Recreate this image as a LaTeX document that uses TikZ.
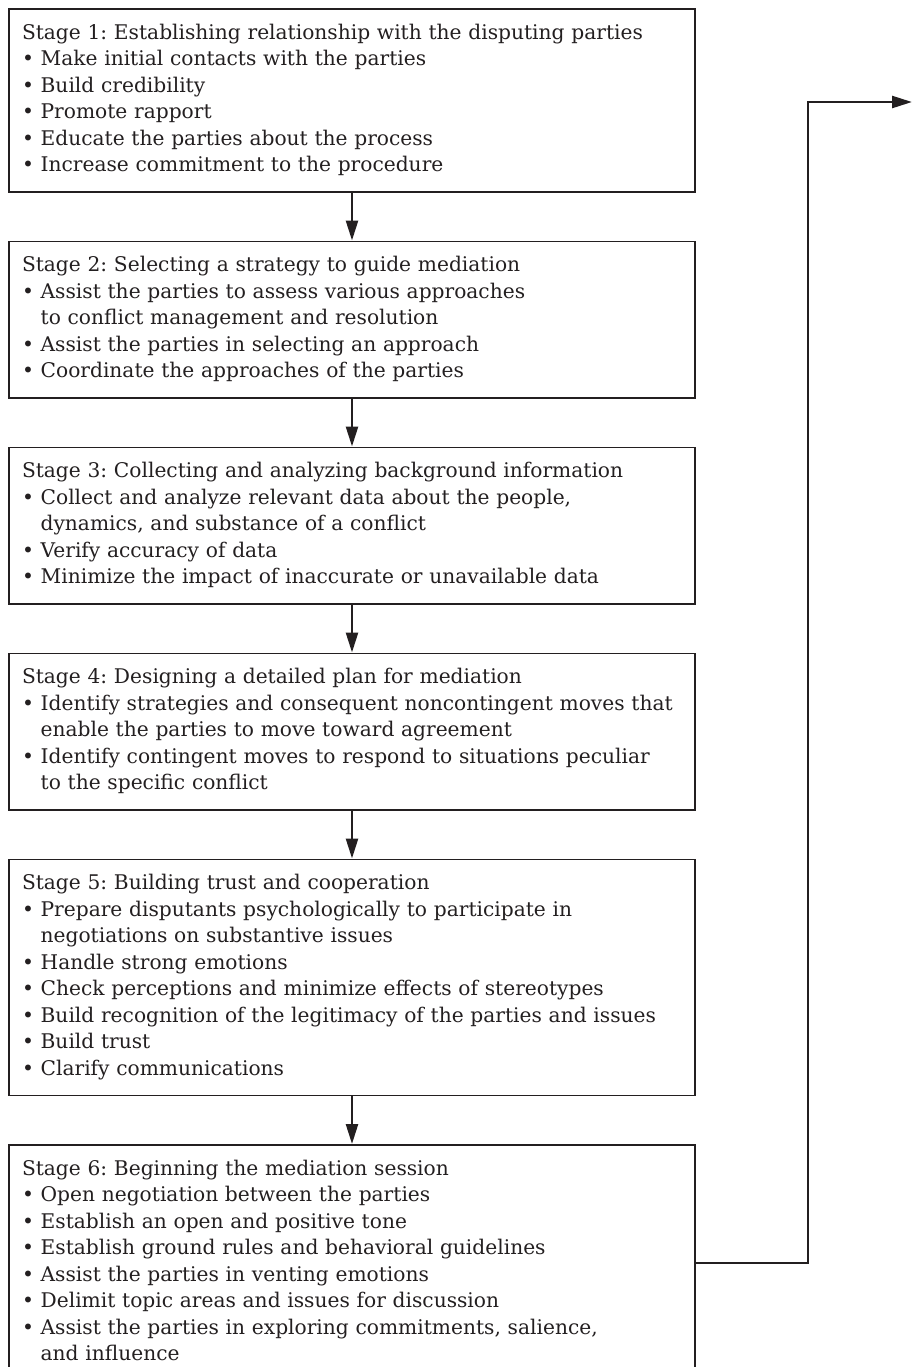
\documentclass[tikz,border=0pt]{standalone}
\usepackage{fontspec}
\setmainfont{DejaVu Serif}
\usepackage{tikz}
\usetikzlibrary{positioning,arrows.meta}
\definecolor{ink}{RGB}{35,31,32}
\frenchspacing
\newcommand{\bul}{\textbullet\ }
\newcommand{\cont}{\hphantom{\textbullet\ }}
\tikzset{
  stage/.style = {shape=rectangle, draw=ink, line width=0.75pt,
                  align=left, text width=330pt, inner xsep=6.5pt, inner ysep=6pt,
                  font=\fontsize{10.1pt}{13.25pt}\selectfont,
                  execute at begin node=\strut, execute at end node=\strut},
  flow/.style  = {draw=ink, line width=1.25pt, -{Triangle[length=10pt,width=6pt]}}
}
\begin{document}
\begin{tikzpicture}
  [
    node distance = 24pt,
    every node/.style = {text=ink}
  ]
  \useasboundingbox (0,0) rectangle (456pt,-683.5pt);
  \node [stage, anchor=north] (s1) at (176pt,-4pt) {Stage 1: Establishing relationship with the disputing parties\\
    \bul Make initial contacts with the parties\\
    \bul Build credibility\\
    \bul Promote rapport\\
    \bul Educate the parties about the process\\
    \bul Increase commitment to the procedure};
  \node [stage, below=of s1] (s2) {Stage 2: Selecting a strategy to guide mediation\\
    \bul Assist the parties to assess various approaches\\
    \cont to conflict management and resolution\\
    \bul Assist the parties in selecting an approach\\
    \bul Coordinate the approaches of the parties};
  \node [stage, below=of s2] (s3) {Stage 3: Collecting and analyzing background information\\
    \bul Collect and analyze relevant data about the people,\\
    \cont dynamics, and substance of a conflict\\
    \bul Verify accuracy of data\\
    \bul Minimize the impact of inaccurate or unavailable data};
  \node [stage, below=of s3] (s4) {Stage 4: Designing a detailed plan for mediation\\
    \bul Identify strategies and consequent noncontingent moves that\\
    \cont enable the parties to move toward agreement\\
    \bul Identify contingent moves to respond to situations peculiar\\
    \cont to the specific conflict};
  \node [stage, below=of s4] (s5) {Stage 5: Building trust and cooperation\\
    \bul Prepare disputants psychologically to participate in\\
    \cont negotiations on substantive issues\\
    \bul Handle strong emotions\\
    \bul Check perceptions and minimize effects of stereotypes\\
    \bul Build recognition of the legitimacy of the parties and issues\\
    \bul Build trust\\
    \bul Clarify communications};
  \node [stage, below=of s5] (s6) {Stage 6: Beginning the mediation session\\
    \bul Open negotiation between the parties\\
    \bul Establish an open and positive tone\\
    \bul Establish ground rules and behavioral guidelines\\
    \bul Assist the parties in venting emotions\\
    \bul Delimit topic areas and issues for discussion\\
    \bul Assist the parties in exploring commitments, salience,\\
    \cont and influence};
  \coordinate (out) at (456pt,-51pt);
  \draw [flow] (s1) -- (s2);
  \draw [flow] (s2) -- (s3);
  \draw [flow] (s3) -- (s4);
  \draw [flow] (s4) -- (s5);
  \draw [flow] (s5) -- (s6);
  \draw [flow] (s6.east) -- ++(56pt,0) |- (out);
\end{tikzpicture}
\end{document}
